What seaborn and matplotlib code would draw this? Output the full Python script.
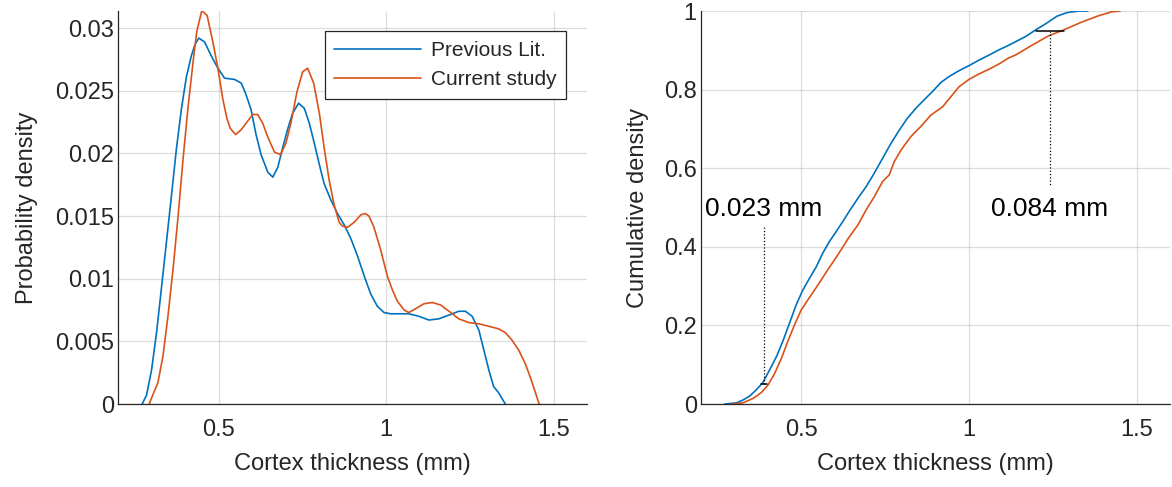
#!/usr/bin/env python3
import numpy as np
import pandas as pd
import matplotlib
matplotlib.use("Agg")
import matplotlib.pyplot as plt
import seaborn as sns

# Probability density (thickness in mm)
prev_pdf_x = [0.272, 0.285, 0.300, 0.315, 0.329, 0.344, 0.359, 0.374, 0.389, 0.404,
              0.419, 0.430, 0.441, 0.458, 0.478, 0.498, 0.518, 0.548, 0.568, 0.582,
              0.597, 0.612, 0.627, 0.647, 0.662, 0.677, 0.691, 0.706, 0.721, 0.739,
              0.756, 0.771, 0.786, 0.801, 0.815, 0.835, 0.855, 0.875, 0.895, 0.915,
              0.935, 0.954, 0.974, 0.994, 1.014, 1.044, 1.068, 1.098, 1.128, 1.158,
              1.188, 1.217, 1.237, 1.257, 1.277, 1.292, 1.307, 1.321, 1.336, 1.356]
prev_pdf_y = [0.0, 0.0007, 0.0027, 0.0057, 0.0091, 0.0128, 0.0165, 0.0203, 0.0235, 0.0261,
              0.0278, 0.0287, 0.0292, 0.0289, 0.0278, 0.0268, 0.0260, 0.0259, 0.0256, 0.0247,
              0.0235, 0.0215, 0.0199, 0.0185, 0.0181, 0.0189, 0.0204, 0.0219, 0.0232, 0.0240,
              0.0236, 0.0224, 0.0208, 0.0191, 0.0176, 0.0163, 0.0152, 0.0143, 0.0132, 0.0118,
              0.0102, 0.0088, 0.0078, 0.0073, 0.0072, 0.0072, 0.0072, 0.0070, 0.0067, 0.0068,
              0.0071, 0.0074, 0.0074, 0.0070, 0.0059, 0.0043, 0.0027, 0.0014, 0.0009, 0.0]

curr_pdf_x = [0.293, 0.305, 0.319, 0.334, 0.349, 0.364, 0.379, 0.394, 0.409, 0.424,
              0.435, 0.450, 0.466, 0.483, 0.498, 0.513, 0.525, 0.535, 0.551, 0.568,
              0.582, 0.602, 0.617, 0.632, 0.647, 0.667, 0.685, 0.701, 0.716, 0.734,
              0.751, 0.766, 0.784, 0.801, 0.815, 0.830, 0.845, 0.860, 0.870, 0.885,
              0.905, 0.925, 0.938, 0.949, 0.964, 0.984, 1.004, 1.019, 1.034, 1.054,
              1.068, 1.088, 1.113, 1.138, 1.163, 1.188, 1.217, 1.247, 1.277, 1.307,
              1.336, 1.356, 1.376, 1.396, 1.416, 1.431, 1.446, 1.457]
curr_pdf_y = [0.0, 0.0008, 0.0017, 0.0038, 0.0070, 0.0107, 0.0149, 0.0195, 0.0237, 0.0273,
              0.0297, 0.0314, 0.0310, 0.0289, 0.0268, 0.0243, 0.0228, 0.0220, 0.0215, 0.0219,
              0.0224, 0.0231, 0.0231, 0.0224, 0.0213, 0.0201, 0.0199, 0.0208, 0.0224, 0.0249,
              0.0265, 0.0268, 0.0256, 0.0232, 0.0205, 0.0179, 0.0159, 0.0145, 0.0142, 0.0141,
              0.0145, 0.0151, 0.0152, 0.0150, 0.0141, 0.0123, 0.0102, 0.0091, 0.0082, 0.0075,
              0.0073, 0.0076, 0.0080, 0.0081, 0.0079, 0.0074, 0.0068, 0.0065, 0.0064, 0.0062,
              0.0060, 0.0057, 0.0051, 0.0043, 0.0032, 0.0021, 0.0009, 0.0]

# Cumulative density
prev_cdf_x = [0.271, 0.306, 0.325, 0.345, 0.365, 0.385, 0.405, 0.425, 0.444, 0.464,
              0.484, 0.504, 0.524, 0.544, 0.563, 0.583, 0.603, 0.623, 0.643, 0.668,
              0.693, 0.717, 0.742, 0.767, 0.792, 0.816, 0.841, 0.866, 0.891, 0.916,
              0.940, 0.970, 1.000, 1.030, 1.060, 1.089, 1.119, 1.169, 1.199, 1.228,
              1.263, 1.293, 1.327, 1.355]
prev_cdf_y = [0.0, 0.003, 0.010, 0.020, 0.036, 0.055, 0.087, 0.120, 0.159, 0.205,
              0.252, 0.290, 0.320, 0.349, 0.383, 0.413, 0.438, 0.464, 0.491, 0.523,
              0.553, 0.587, 0.625, 0.663, 0.697, 0.727, 0.752, 0.774, 0.795, 0.818,
              0.833, 0.848, 0.861, 0.875, 0.888, 0.901, 0.913, 0.935, 0.952, 0.967,
              0.987, 0.996, 1.0, 1.0]

curr_cdf_x = [0.291, 0.325, 0.355, 0.380, 0.400, 0.420, 0.440, 0.459, 0.479, 0.499,
              0.519, 0.539, 0.559, 0.578, 0.598, 0.618, 0.640, 0.668, 0.693, 0.717,
              0.742, 0.762, 0.777, 0.797, 0.826, 0.856, 0.886, 0.921, 0.946, 0.970,
              1.000, 1.030, 1.060, 1.089, 1.117, 1.139, 1.188, 1.238, 1.283, 1.337,
              1.387, 1.426, 1.451]
curr_cdf_y = [0.0, 0.003, 0.014, 0.029, 0.048, 0.078, 0.116, 0.159, 0.201, 0.239,
              0.265, 0.290, 0.316, 0.341, 0.366, 0.392, 0.422, 0.455, 0.494, 0.527,
              0.566, 0.583, 0.617, 0.646, 0.680, 0.706, 0.735, 0.756, 0.782, 0.807,
              0.826, 0.840, 0.852, 0.865, 0.880, 0.888, 0.913, 0.937, 0.952, 0.972,
              0.988, 0.998, 1.0]

# gaps between the curves at the 5 % and 95 % levels
gap_levels = [0.05, 0.95]
gap_prev_x = [0.378, 1.200]
gap_curr_x = [0.398, 1.283]
gap_labels = ["0.023 mm", "0.084 mm"]

series = ["Previous Lit.", "Current study"]
colors = {"Previous Lit.": "#0072BD", "Current study": "#D95319"}

pdf_df = pd.concat([
    pd.DataFrame({"x": prev_pdf_x, "y": prev_pdf_y, "src": series[0]}),
    pd.DataFrame({"x": curr_pdf_x, "y": curr_pdf_y, "src": series[1]}),
])
cdf_df = pd.concat([
    pd.DataFrame({"x": prev_cdf_x, "y": prev_cdf_y, "src": series[0]}),
    pd.DataFrame({"x": curr_cdf_x, "y": curr_cdf_y, "src": series[1]}),
])

sns.set_theme(style="white")
plt.rcParams["font.family"] = ["Liberation Sans", "DejaVu Sans"]
plt.rcParams.update({
    "axes.edgecolor": "#262626",
    "axes.linewidth": 0.9,
    "xtick.direction": "in",
    "ytick.direction": "in",
    "xtick.major.size": 4,
    "ytick.major.size": 4,
    "xtick.major.width": 0.9,
    "ytick.major.width": 0.9,
    "xtick.color": "#262626",
    "ytick.color": "#262626",
    "xtick.labelsize": 17,
    "ytick.labelsize": 17,
    "axes.labelsize": 17,
    "axes.labelcolor": "#262626",
})

fig = plt.figure(figsize=(11.72, 4.87), dpi=100)
ax1 = fig.add_axes([0.1007, 0.1704, 0.4002, 0.807])
ax2 = fig.add_axes([0.5981, 0.1704, 0.4002, 0.807])

for ax in (ax1, ax2):
    ax.grid(True, color="#262626", alpha=0.15, linewidth=0.9)
    ax.set_axisbelow(True)
    sns.despine(ax=ax)
    ax.set_xlim(0.2, 1.6)
    ax.set_xticks([0.5, 1.0, 1.5])
    ax.set_xticklabels(["0.5", "1", "1.5"])
    ax.tick_params(axis="x", pad=10.5)
    ax.tick_params(axis="y", pad=3)

sns.lineplot(data=pdf_df, x="x", y="y", hue="src", palette=colors,
             estimator=None, linewidth=1.2, ax=ax1)
ax1.set_ylim(0, 0.03136)
ax1.set_yticks([0, 0.005, 0.01, 0.015, 0.02, 0.025, 0.03])
ax1.set_yticklabels(["0", "0.005", "0.01", "0.015", "0.02", "0.025", "0.03"])
ax1.set_xlabel("Cortex thickness (mm)", labelpad=9)
ax1.set_ylabel("Probability density", labelpad=12)
handles, labels = ax1.get_legend_handles_labels()
ax1.legend(handles, labels, loc="upper right", bbox_to_anchor=(0.955, 0.948),
           frameon=True, fancybox=False, edgecolor="#262626", framealpha=1,
           fontsize=15, borderpad=0.45, handlelength=4.15, handletextpad=0.5,
           labelspacing=0.5, borderaxespad=0)
ax1.get_legend().get_frame().set_linewidth(0.9)

sns.lineplot(data=cdf_df, x="x", y="y", hue="src", palette=colors,
             estimator=None, linewidth=1.2, ax=ax2, legend=False)
ax2.set_ylim(0, 1)
ax2.set_yticks([0, 0.2, 0.4, 0.6, 0.8, 1.0])
ax2.set_yticklabels(["0", "0.2", "0.4", "0.6", "0.8", "1"])
ax2.set_xlabel("Cortex thickness (mm)", labelpad=9)
ax2.set_ylabel("Cumulative density", labelpad=11)

# gap markers with dotted leaders to the labels
for lvl, x0, x1, lab in zip(gap_levels, gap_prev_x, gap_curr_x, gap_labels):
    xm = (x0 + x1) / 2
    ax2.plot([x0, x1], [lvl, lvl], color="black", linewidth=1.1)
    y_end = 0.45 if lvl < 0.5 else 0.555
    ax2.plot([xm, xm], [lvl, y_end], color="black", linestyle=":", linewidth=0.9)
    ax2.text(xm, 0.497, lab, ha="center", va="center", fontsize=19, color="black")

fig.savefig("out.png", dpi=100)
